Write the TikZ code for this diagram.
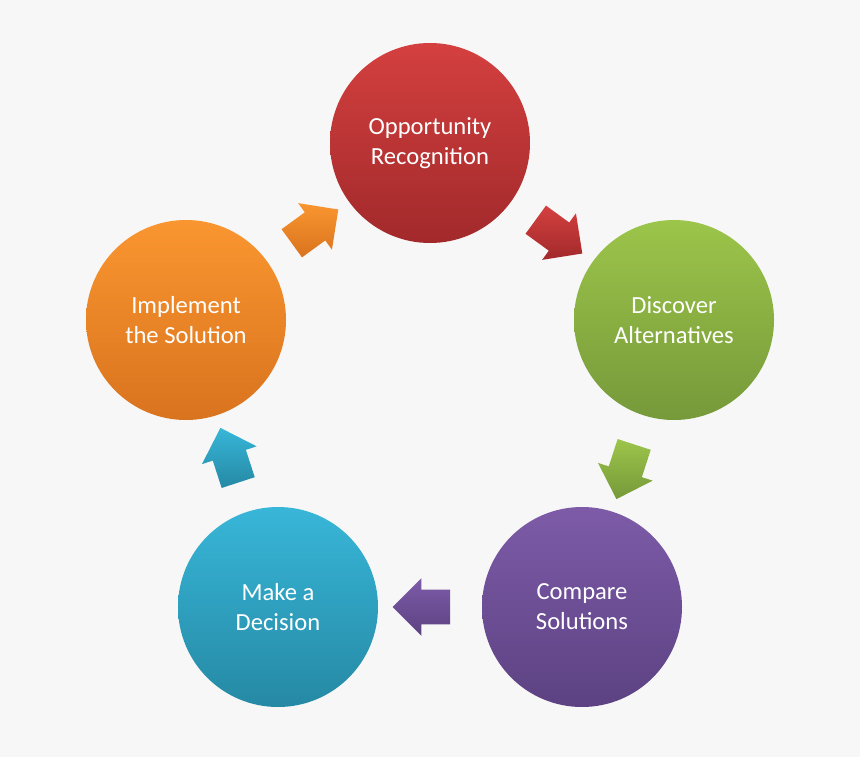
\documentclass[tikz,border=0pt]{standalone}
\usepackage{fontspec}
\setmainfont{Carlito}
\usetikzlibrary{shapes.arrows,calc}
\definecolor{bg}{HTML}{F7F7F7}
\definecolor{redA}{HTML}{D4403F}\definecolor{redB}{HTML}{A2292B}
\definecolor{grnA}{HTML}{9CC54A}\definecolor{grnB}{HTML}{76993A}
\definecolor{purA}{HTML}{7D5BA8}\definecolor{purB}{HTML}{5C4282}
\definecolor{bluA}{HTML}{38B6D8}\definecolor{bluB}{HTML}{2589A4}
\definecolor{orgA}{HTML}{FA9630}\definecolor{orgB}{HTML}{D9731E}
\begin{document}
\begin{tikzpicture}[
    stage/.style={circle, minimum size=4cm, text=white, align=center, font=\fontsize{14}{17}\selectfont},
    turn/.style={single arrow, minimum height=1.15cm, minimum width=1.15cm, single arrow head extend=0.22cm, rotate=#1, inner xsep=0.2cm, inner ysep=0.33cm}
]
    \fill[bg] (0,0) rectangle (17.2,15.14);

    \node[stage, top color=redA, bottom color=redB] (opp) at (8.6,12.28) {Opportunity\\Recognition};
    \node[stage, top color=grnA, bottom color=grnB] (disc) at (13.48,8.74) {Discover\\Alternatives};
    \node[stage, top color=purA, bottom color=purB] (comp) at (11.64,3.0) {Compare\\Solutions};
    \node[stage, top color=bluA, bottom color=bluB] (dec) at (5.56,3.0) {Make a\\Decision};
    \node[stage, top color=orgA, bottom color=orgB] (impl) at (3.72,8.74) {Implement\\the Solution};

    \node[turn=-36, top color=redA, bottom color=redB] (a1) at ($(opp)!0.5!(disc)$) {};
    \node[turn=252, top color=grnA, bottom color=grnB] (a2) at ($(disc)!0.5!(comp)$) {};
    \node[turn=180, top color=purA, bottom color=purB] (a3) at ($(comp)!0.5!(dec)$) {};
    \node[turn=108, top color=bluA, bottom color=bluB] (a4) at ($(dec)!0.5!(impl)$) {};
    \node[turn=36, top color=orgA, bottom color=orgB] (a5) at ($(impl)!0.5!(opp)$) {};
\end{tikzpicture}
\end{document}
